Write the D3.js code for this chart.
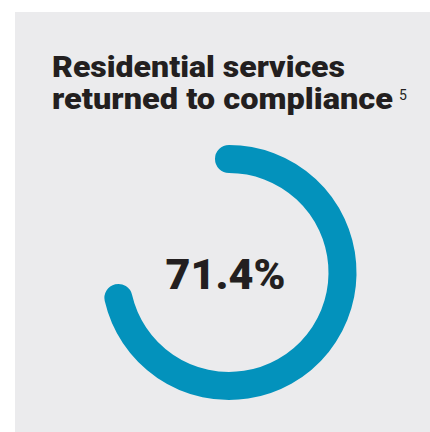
<!DOCTYPE html>
<html>
<head>
<meta charset="utf-8">
<script src="https://cdn.jsdelivr.net/npm/d3@7"></script>
<style>
  body { margin: 0; background: #fff; }
  svg { display: block; }
</style>
</head>
<body>
<svg id="chart" width="430" height="432"></svg>
<script>
// data
const titleLines = ["Residential services", "returned to compliance"];
const footnote = ["5"];
const shareValues = [71.4];   // percent returned to compliance
const domainMax = [100];

const svg = d3.select("#chart");
const W = 430, H = 432;

// panel
svg.append("rect")
  .attr("x", 15).attr("y", 12)
  .attr("width", W - 15).attr("height", H - 12)
  .attr("fill", "#ebebed");

// title
const title = svg.append("g").attr("font-family", "Roboto, 'Open Sans', sans-serif")
  .attr("font-weight", 900).attr("fill", "#231f20");
const titleWidths = [293, 341];
title.selectAll("text.t")
  .data(titleLines)
  .enter().append("text")
  .attr("class", "t")
  .attr("x", 52)
  .attr("y", (d, i) => 77 + i * 31.5)
  .attr("font-size", 30)
  .attr("textLength", (d, i) => titleWidths[i])
  .attr("lengthAdjust", "spacingAndGlyphs")
  .text(d => d);
title.append("text")
  .attr("x", 399).attr("y", 100)
  .attr("font-size", 14).attr("font-weight", 400)
  .text(footnote[0]);

// ring
const cx = 229, cy = 272.5, r = 113.5, ringW = 28;
const angle = d3.scaleLinear().domain([0, domainMax[0]]).range([0, 2 * Math.PI]);
const g = svg.append("g").attr("transform", `translate(${cx},${cy})`);

g.selectAll("path.ring")
  .data(shareValues)
  .enter().append("path")
  .attr("class", "ring")
  .attr("d", d => {
    const p = d3.path();
    p.arc(0, 0, r, -Math.PI / 2, angle(d) - Math.PI / 2);
    return p.toString();
  })
  .attr("fill", "none")
  .attr("stroke", "#0392bc")
  .attr("stroke-width", ringW)
  .attr("stroke-linecap", "round");

g.selectAll("text.val")
  .data(shareValues)
  .enter().append("text")
  .attr("class", "val")
  .attr("x", -3.5).attr("y", 16)
  .attr("text-anchor", "middle")
  .attr("font-family", "Roboto, 'Open Sans', sans-serif")
  .attr("font-weight", 900)
  .attr("font-size", 43)
  .attr("textLength", 120)
  .attr("lengthAdjust", "spacingAndGlyphs")
  .attr("fill", "#231f20")
  .text(d => d3.format(".1f")(d) + "%");
</script>
</body>
</html>
